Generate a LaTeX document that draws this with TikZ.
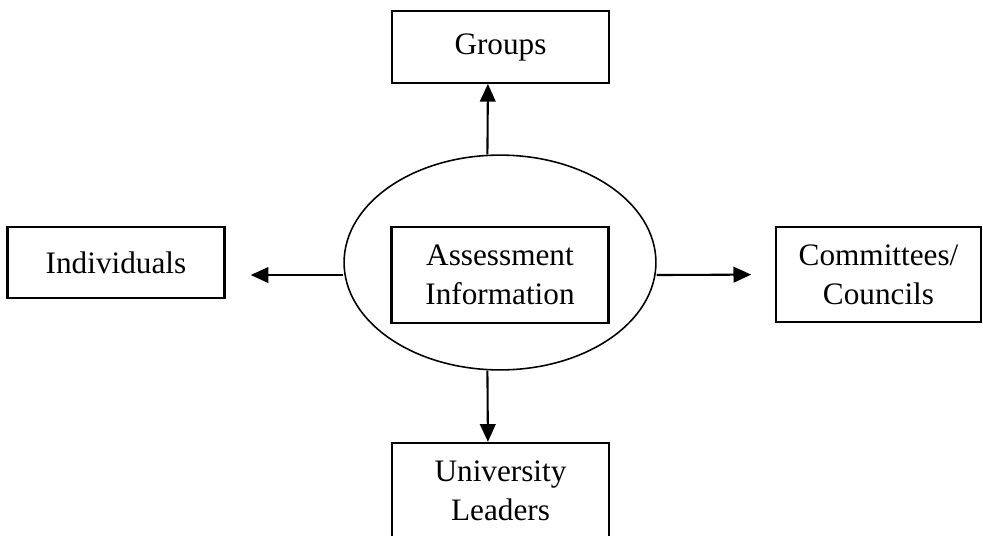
\documentclass[tikz,border=0pt]{standalone}
\usepackage{fontspec}
\setmainfont{Liberation Serif}
\usetikzlibrary{arrows.meta,shapes.geometric}
\tikzset{every node/.style={ % Text of every box
            font=\fontsize{12}{15}\selectfont,
            align=center},
        box/.style={ % Plain rectangular box
            draw, thick,
            minimum width=2.93cm, minimum height=0.97cm,
            inner sep=0pt},
        hub/.style={ % Ellipse round the centre box
            draw, semithick, ellipse,
            minimum width=4.21cm, minimum height=2.9cm,
            inner sep=0pt},
        every edge/.style={ % Sets the properties for each connector
            draw, thick,
            -{Triangle[length=6.8pt,width=6pt]}}
        }

\begin{document}
\begin{tikzpicture}
    \useasboundingbox (0,0) rectangle (13.2705,-7.236);

    \node[hub] (hub) at (6.75,-3.544) {};
    \node[box, minimum height=1.3cm] (info) at (6.75,-3.7125) {Assessment\\Information};
    \node[box] (groups) at (6.757,-0.6345) {Groups};
    \node[box, minimum height=0.96cm] (indiv) at (1.566,-3.544) {Individuals};
    \node[box, minimum width=2.77cm, minimum height=1.28cm] (comm) at (11.86,-3.706) {Committees/\\Councils};
    \node[box, minimum height=1.3cm] (lead) at (6.757,-6.6285) {University\\Leaders};

    \draw
        ([xshift=-0.17cm]hub.north)
            edge ([xshift=-0.17cm]groups.south)
        ([xshift=-0.17cm]hub.south)
            edge ([xshift=-0.17cm]lead.north)
        ([yshift=-0.169cm]hub.west)
            edge [shorten >=0.34cm] ([yshift=-0.169cm]indiv.east)
        ([yshift=-0.169cm]hub.east)
            edge [shorten >=0.32cm] (comm.west);
\end{tikzpicture}
\end{document}
